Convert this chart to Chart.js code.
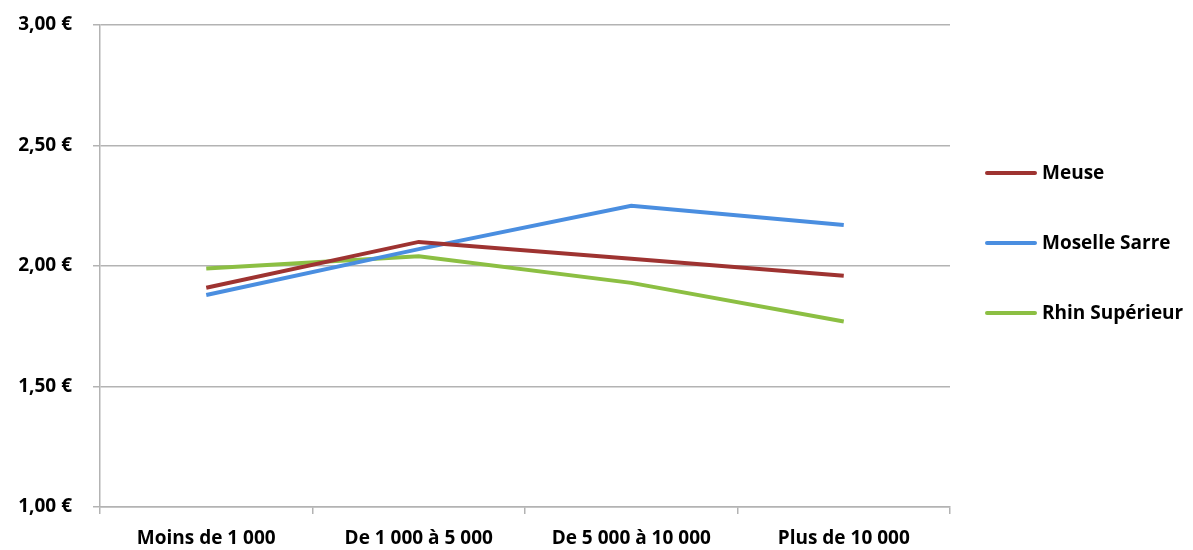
<!DOCTYPE html>
<html>
<head>
<meta charset="utf-8">
<script src="https://cdn.jsdelivr.net/npm/chart.js@4/dist/chart.umd.min.js"></script>
<style>
  html, body { margin: 0; padding: 0; background: #ffffff; }
  #wrap { width: 1193px; height: 550px; position: relative; }
</style>
</head>
<body>
<div id="wrap"><canvas id="chart"></canvas></div>
<script>
// Average price per category of commune size
const categories = ["Moins de 1 000", "De 1 000 à 5 000", "De 5 000 à 10 000", "Plus de 10 000"];
const meuse = [1.91, 2.10, 2.03, 1.96];
const moselleSarre = [1.88, 2.07, 2.25, 2.17];
const rhinSuperieur = [1.99, 2.04, 1.93, 1.77];
const yTicks = [1.00, 1.50, 2.00, 2.50, 3.00];

const FONT = "'Open Sans', sans-serif";
const GRID = "#b3b3b3";

function euro(v) {
  return v.toFixed(2).replace(".", ",") + " €";
}

// Legend drawn as a column to the right of the plot
const sideLegend = {
  id: "sideLegend",
  afterDraw(chart) {
    const ctx = chart.ctx;
    const x0 = 987, lineLen = 48, gap = 7;
    const yStart = 173, step = 70;
    ctx.save();
    ctx.font = "bold 19px " + FONT;
    ctx.textBaseline = "middle";
    ctx.textAlign = "left";
    chart.data.datasets.forEach((ds, i) => {
      const y = yStart + i * step;
      ctx.strokeStyle = ds.borderColor;
      ctx.lineWidth = 4;
      ctx.lineCap = "round";
      ctx.beginPath();
      ctx.moveTo(x0, y);
      ctx.lineTo(x0 + lineLen, y);
      ctx.stroke();
      ctx.fillStyle = "#000000";
      ctx.fillText(ds.label, x0 + lineLen + gap, y + 1);
    });
    ctx.restore();
  }
};

const mk = (label, data, color) => ({
  label, data,
  borderColor: color,
  backgroundColor: color,
  borderWidth: 4,
  pointRadius: 0,
  pointHoverRadius: 0,
  tension: 0,
  fill: false
});

new Chart(document.getElementById("chart"), {
  type: "line",
  data: {
    labels: categories,
    datasets: [
      mk("Meuse", meuse, "#9e3331"),
      mk("Moselle Sarre", moselleSarre, "#4a8ee0"),
      mk("Rhin Supérieur", rhinSuperieur, "#8cbf43")
    ]
  },
  options: {
    responsive: true,
    maintainAspectRatio: false,
    animation: false,
    layout: { padding: { top: 25, right: 243, left: 0, bottom: 0 } },
    plugins: {
      legend: { display: false },
      tooltip: { enabled: false }
    },
    scales: {
      x: {
        offset: true,
        afterFit(scale) {
          scale.height = 43;
          scale.paddingLeft = 0;
          scale.paddingRight = 0;
        },
        grid: {
          offset: true,
          drawOnChartArea: false,
          drawTicks: true,
          tickLength: 7,
          color: GRID,
          lineWidth: 1.5
        },
        border: { display: true, color: GRID, width: 1.5 },
        ticks: {
          color: "#000000",
          font: { family: FONT, size: 19, weight: "bold" },
          padding: 13,
          maxRotation: 0,
          autoSkip: false
        }
      },
      y: {
        min: 1,
        max: 3,
        afterFit(scale) {
          scale.width = 100;
          scale.paddingTop = 0;
          scale.paddingBottom = 0;
        },
        afterBuildTicks(scale) {
          scale.ticks = yTicks.map(v => ({ value: v }));
        },
        grid: {
          color: GRID,
          lineWidth: 1.5,
          tickLength: 7
        },
        border: { display: true, color: GRID, width: 1.5 },
        ticks: {
          color: "#000000",
          font: { family: FONT, size: 19, weight: "bold" },
          padding: 21,
          callback: (v) => euro(v)
        }
      }
    }
  },
  plugins: [sideLegend]
});
</script>
</body>
</html>
